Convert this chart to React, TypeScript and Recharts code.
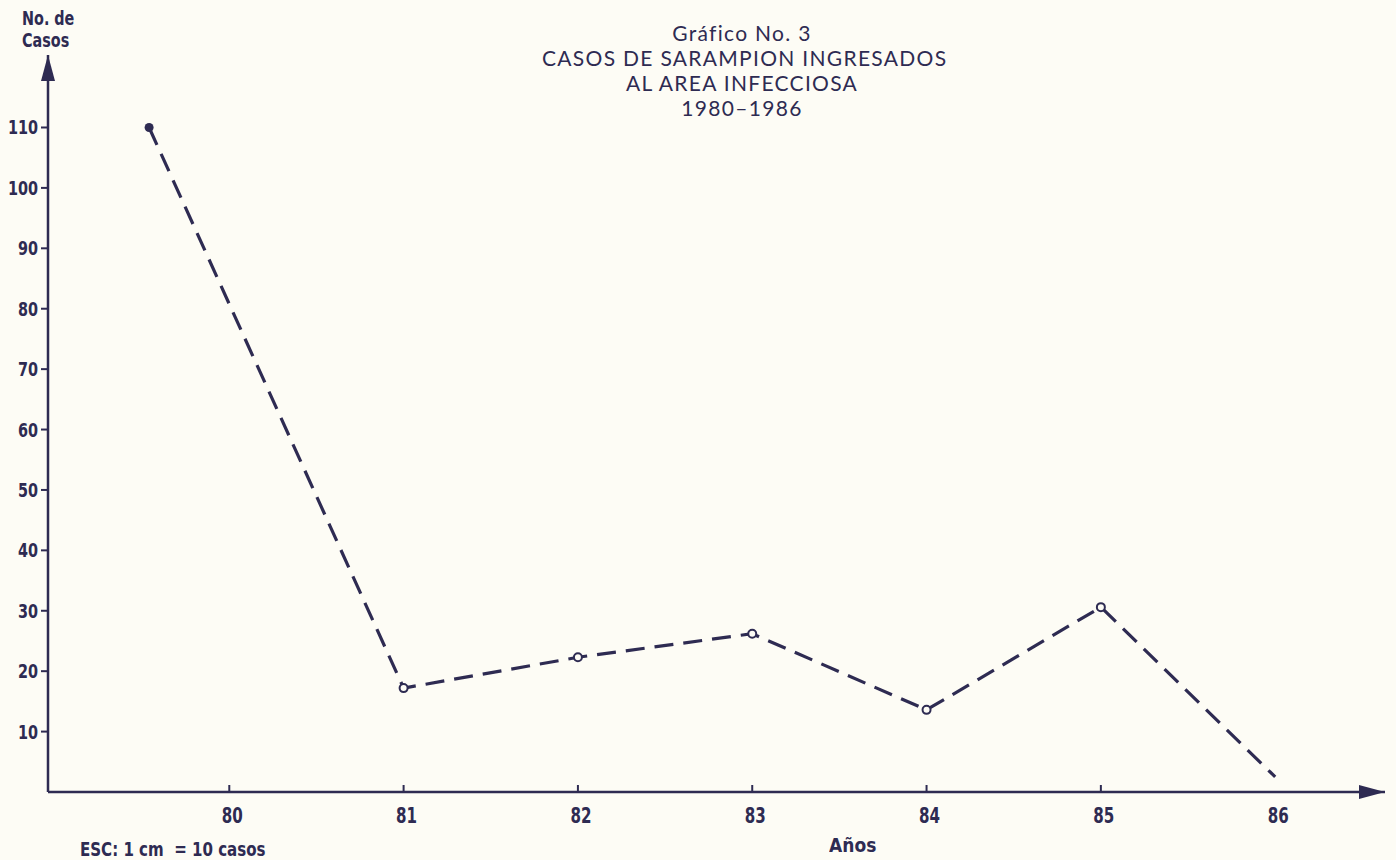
import React from 'react';
import { LineChart, Line, XAxis, YAxis } from 'recharts';

const years = [79.54, 81, 82, 83, 84, 85, 86];
const casos = [110, 17.2, 22.3, 26.2, 13.6, 30.6, 2.5];
const yTicks = [10, 20, 30, 40, 50, 60, 70, 80, 90, 100, 110];
const xTicks = [80, 81, 82, 83, 84, 85, 86];
const titleLines = ['Gráfico No. 3', 'CASOS DE SARAMPION INGRESADOS', 'AL AREA INFECCIOSA', '1980–1986'];

const data = years.map((year, i) => ({ year, casos: casos[i] }));

const INK = '#2e2b52';
const PAPER = '#fdfcf5';
const NARROW = "'DejaVu Sans Condensed', 'DejaVu Sans', sans-serif";

// condensed bold figures like the labels of the scan
const YearTick = (props: any) => {
    const { x, y, payload } = props;
    return (
        <g>
            {payload.value !== 86 && (
                <line x1={x} y1={y} x2={x} y2={y - 7} stroke={INK} strokeWidth={2} />
            )}
            <text transform={`translate(${x + 3},${y + 31}) scale(0.8,1)`} textAnchor="middle" fill={INK}
                fontFamily={NARROW} fontWeight="bold" fontSize={21}>
                {payload.value}
            </text>
        </g>
    );
};

const CasosTick = (props: any) => {
    const { x, y, payload } = props;
    return (
        <text transform={`translate(${x},${y + 7}) scale(0.8,1)`} textAnchor="end" fill={INK}
            fontFamily={NARROW} fontWeight="bold" fontSize={20}>
            {payload.value}
        </text>
    );
};

const PointDot = (props: any) => {
    const { cx, cy, index } = props;
    if (index === 0) {
        return <circle key={index} cx={cx} cy={cy} r={4.5} fill={INK} />;
    }
    if (index === data.length - 1) {
        return <g key={index} />;
    }
    return <circle key={index} cx={cx} cy={cy} r={4} fill={PAPER} stroke={INK} strokeWidth={2} />;
};

const smallBold: React.CSSProperties = {
    position: 'absolute', fontFamily: NARROW, fontWeight: 'bold', fontSize: 19,
    transform: 'scaleX(0.84)', transformOrigin: 'left top', whiteSpace: 'pre',
};

export default function App() {
    return (
        <div style={{ position: 'absolute', left: 0, top: 0, width: 1396, height: 860, background: PAPER, color: INK, overflow: 'hidden' }}>
            <svg width={0} height={0} style={{ position: 'absolute' }}>
                <defs>
                    <marker id="arrowHead" viewBox="0 0 26 14" refX={26} refY={7}
                        markerWidth={26} markerHeight={14} markerUnits="userSpaceOnUse"
                        orient="auto-start-reverse">
                        <path d="M0,0 L26,7 L0,14 Z" fill={INK} />
                    </marker>
                </defs>
            </svg>

            <div style={{ position: 'absolute', left: 542, width: 400, top: 20, textAlign: 'center', fontFamily: 'Lato, sans-serif', fontSize: 21, lineHeight: '25px', letterSpacing: 1.3, whiteSpace: 'nowrap' }}>
                {titleLines.map((t) => (
                    <div key={t}>{t}</div>
                ))}
            </div>

            <div style={{ ...smallBold, left: 22, top: 7, lineHeight: '22px' }}>
                <div>No. de</div>
                <div>Casos</div>
            </div>

            <div style={{ ...smallBold, left: 80, top: 838, transform: 'scaleX(0.88)' }}>
                {'ESC: 1 cm  = 10 casos'}
            </div>

            <div style={{ ...smallBold, left: 829, top: 833, fontSize: 20, transform: 'scaleX(0.95)' }}>
                Años
            </div>

            <LineChart width={1396} height={860} data={data}
                margin={{ top: 55, right: 11, bottom: 0, left: 0 }}
                style={{ position: 'absolute', left: 0, top: 0 }}>
                <XAxis dataKey="year" type="number" domain={[78.96, 86.63]} ticks={xTicks}
                    height={68} tickSize={0} tickMargin={0} tickLine={false}
                    axisLine={{ stroke: INK, strokeWidth: 2.5, markerEnd: 'url(#arrowHead)' }}
                    tick={<YearTick />} interval={0} allowDataOverflow />
                <YAxis type="number" domain={[0, 122]} ticks={yTicks} width={48}
                    tickSize={7} tickMargin={3} interval={0} allowDataOverflow
                    axisLine={{ stroke: INK, strokeWidth: 2.5, markerStart: 'url(#arrowHead)' }}
                    tickLine={{ stroke: INK, strokeWidth: 2 }}
                    tick={<CasosTick />} />
                <Line type="linear" dataKey="casos" stroke={INK} strokeWidth={3.2}
                    strokeDasharray="19 10" dot={<PointDot />} activeDot={false}
                    isAnimationActive={false} />
            </LineChart>
        </div>
    );
}
